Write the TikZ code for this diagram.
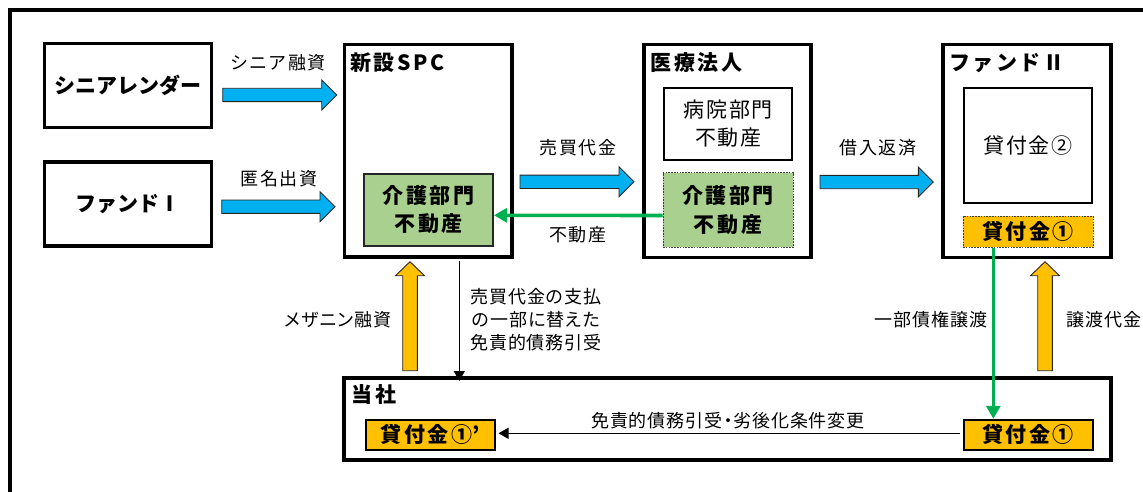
\documentclass[tikz,border=0pt]{standalone}
\usepackage{fontspec}
\setmainfont{Noto Sans CJK JP}
\newfontfamily\jpa{Noto Sans CJK JP}[LetterSpace=5, RawFeature=+palt]
\newfontfamily\jpb{Noto Sans CJK JP}[LetterSpace=8]
\newfontfamily\jpc{Noto Sans CJK JP}[LetterSpace=12]
\newfontfamily\jpp{Noto Sans CJK JP}[RawFeature=+palt]
\usetikzlibrary{arrows.meta,calc}
\definecolor{ablue}{HTML}{00B0F0}
\definecolor{aorange}{HTML}{FFC000}
\definecolor{gfill}{HTML}{A9D08E}
\definecolor{gline}{HTML}{00B050}
\begin{document}
\begin{tikzpicture}[x=1pt,y=-1pt,
  outerbox/.style={draw=black, line width=3.6pt, fill=white, inner sep=0pt},
  mainlbl/.style={font=\bfseries\fontsize{21}{25}\selectfont},
  titlelbl/.style={font=\jpc\bfseries\fontsize{21}{25}\selectfont, inner sep=0pt, anchor=west},
  greenbox/.style={fill=gfill, inner sep=0pt, align=center, font=\jpc\bfseries\fontsize{21}{28.5}\selectfont},
  plainbox/.style={draw=black, line width=2pt, fill=white, inner sep=0pt, align=center, font=\jpb\fontsize{21}{28.5}\selectfont},
  loanbox/.style={fill=aorange, inner sep=0pt, font=\jpc\bfseries\fontsize{21}{25}\selectfont},
  dotborder/.style={draw=black!75, line width=0.9pt, dash pattern=on 1.6pt off 1.2pt},
  toplbl/.style={font=\jpb\fontsize{18}{22}\selectfont, inner sep=0pt},
  lowlbl/.style={font=\jpa\fontsize{18}{23}\selectfont, inner sep=0pt, align=center},
  fatline/.style={draw=black!85, line width=0.9pt, line join=miter},
  rfat/.style={to path={let \p1=(\tikztostart), \p2=(\tikztotarget) in
    (\x1,\y1+6.7pt) -- (\x2-15pt,\y1+6.7pt) -- (\x2-15pt,\y1+15pt) -- (\x2,\y1)
    -- (\x2-15pt,\y1-15pt) -- (\x2-15pt,\y1-6.7pt) -- (\x1,\y1-6.7pt) -- cycle}},
  ufat/.style={to path={let \p1=(\tikztostart), \p2=(\tikztotarget) in
    (\x1-7.3pt,\y1) -- (\x1-7.3pt,\y2-14pt) -- (\x1-14.5pt,\y2-14pt) -- (\x1,\y2)
    -- (\x1+14.5pt,\y2-14pt) -- (\x1+7.3pt,\y2-14pt) -- (\x1+7.3pt,\y1) -- cycle}},
  garrow/.style={draw=gline, line width=3.6pt, -{Triangle[length=13pt,width=14pt]}},
  karrow/.style={draw=black, line width=1.2pt, -{Triangle[length=10pt,width=11pt]}}
]
\useasboundingbox (0,0) rectangle (1143,492);
\clip (0,0) rectangle (1143,492);
% outer frame (cropped at right and bottom)
\draw[line width=4pt] (10.3,10.3) rectangle (1220,560);

% main boxes
\node[outerbox, mainlbl, minimum width=167pt, minimum height=84pt] (lender) at (128,85.5) {シニアレンダー};
\node[outerbox, mainlbl, minimum width=167pt, minimum height=84pt] (fund1) at (128,203.7) {ファンドⅠ};
\node[outerbox, minimum width=167.5pt, minimum height=212.5pt] (spc) at (428.3,150.8) {};
\node[outerbox, minimum width=167pt, minimum height=213pt] (med) at (727.5,151) {};
\node[outerbox, minimum width=168pt, minimum height=213pt] (fund2) at (1027,151) {};
\node[outerbox, minimum width=767pt, minimum height=82pt] (tosha) at (727.7,418.8) {};

% titles
\node[titlelbl] (spct) at (350,63) {新設SPC};
\node[titlelbl] (medt) at (650.5,63) {医療法人};
\node[titlelbl] (fund2t) at (949,63) {ファンドⅡ};
\node[titlelbl] (toshat) at (351.5,395) {当社};

% inner boxes
\node[greenbox, draw=black!85, line width=2pt, minimum width=129pt, minimum height=72.5pt] (spcg) at (428.5,209.8) {介護部門\\不動産};
\node[plainbox, minimum width=128pt, minimum height=72pt] (hosp) at (728.3,123.7) {病院部門\\不動産};
\node[greenbox, dotborder, minimum width=130pt, minimum height=74.5pt] (medg) at (728,210) {介護部門\\不動産};
\node[plainbox, minimum width=128.5pt, minimum height=115.5pt] (loan2) at (1028,145.3) {貸付金②};
\node[loanbox, dotborder, minimum width=130pt, minimum height=31pt] (loan1t) at (1028,231.7) {貸付金①};
\node[loanbox, draw=black, line width=2pt, minimum width=129pt, minimum height=30pt] (loan1b) at (1028,434.8) {貸付金①};
\node[loanbox, draw=black, line width=2pt, minimum width=129pt, minimum height=30pt] (loan1p) at (430,434.8) {貸付金①{\jpp ’}};

% block arrow end points
\coordinate (b1s) at (222.7,95);   \coordinate (b1e) at (336.7,95);
\coordinate (b2s) at (221.7,206.7); \coordinate (b2e) at (335,206.7);
\coordinate (b3s) at (520,181.8);  \coordinate (b3e) at (634,181.8);
\coordinate (b4s) at (820,182);    \coordinate (b4e) at (933.3,182);
\coordinate (o1s) at (410,370.7);  \coordinate (o1e) at (410,261.7);
\coordinate (o2s) at (1045,370.7); \coordinate (o2e) at (1045,261.7);

\draw[fatline, fill=ablue, rfat] (b1s) to (b1e);
\draw[fatline, fill=ablue, rfat] (b2s) to (b2e);
\draw[fatline, fill=ablue, rfat] (b3s) to (b3e);
\draw[fatline, fill=ablue, rfat] (b4s) to (b4e);
\draw[fatline, fill=aorange, ufat] (o1s) to (o1e);
\draw[fatline, fill=aorange, ufat] (o2s) to (o2e);

% green arrows
\draw[garrow] ([yshift=-5.5pt]medg.west) -- ([yshift=-5.5pt]spcg.east);
\draw[garrow] ([xshift=-34.7pt]loan1t.south) -- ([xshift=-34.7pt]loan1b.north);

% black thin arrows
\draw[karrow] ([xshift=31pt,yshift=-2.5pt]spc.south) -- ([xshift=-268.4pt,yshift=-5pt]tosha.north);
\draw[karrow] ([xshift=-2.5pt,yshift=1.5pt]loan1b.west) -- ([xshift=3pt,yshift=1.5pt]loan1p.east);

% labels
\node[toplbl] (l1) at (278,62.7) {シニア融資};
\node[toplbl] (l2) at (279,178.3) {匿名出資};
\node[toplbl] (l3) at (578,147.7) {売買代金};
\node[toplbl] (l4) at (578,235) {不動産};
\node[toplbl] (l5) at (878,147.7) {借入返済};
\node[lowlbl] (l6) at (338,320) {メザニン融資};
\node[lowlbl] (l7) at (536,320) {売買代金の支払\\の一部に替えた\\免責的債務引受};
\node[lowlbl] (l8) at (931,320) {一部債権譲渡};
\node[lowlbl] (l9) at (1104,320) {譲渡代金};
\node[lowlbl] (l10) at (728,421) {免責的債務引受・劣後化条件変更};
\end{tikzpicture}
\end{document}
